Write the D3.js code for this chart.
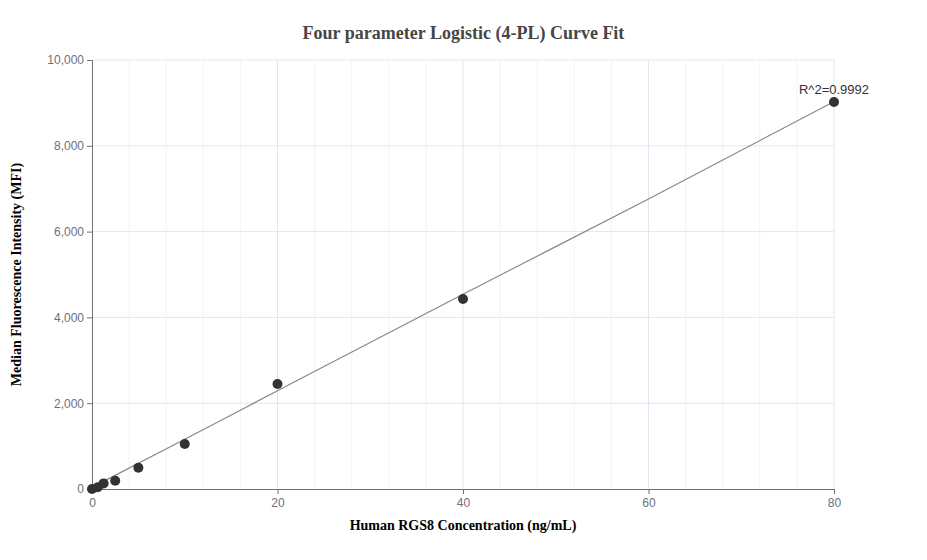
<!DOCTYPE html>
<html>
<head>
<meta charset="utf-8">
<script src="https://cdn.jsdelivr.net/npm/d3@7"></script>
<style>
  body { margin: 0; background: #fff; }
  svg { display: block; }
</style>
</head>
<body>
<svg id="chart"></svg>
<script>
// measured standards
var concentrations = [0, 0.625, 1.25, 2.5, 5, 10, 20, 40, 80];
var mfiValues = [0, 40, 131, 193, 497, 1049, 2448, 4429, 9020];

// fitted curve
var curveX = [0, 10, 20, 40, 60, 80];
var curveY = [40, 1160, 2290, 4540, 6760, 9030];

var xTicks = [0, 20, 40, 60, 80];
var yTicks = [0, 2000, 4000, 6000, 8000, 10000];
var rSquaredLabel = "R^2=0.9992";

var width = 927, height = 560;
var margin = { top: 60, right: 93, bottom: 71, left: 92 };

var svg = d3.select("#chart")
    .attr("width", width)
    .attr("height", height);

var x = d3.scaleLinear().domain([0, 80]).range([margin.left, width - margin.right]);
var y = d3.scaleLinear().domain([0, 10000]).range([height - margin.bottom, margin.top]);

// minor grid every 4 units on x
var minorX = d3.range(0, 81, 4).filter(function (d) { return d % 20 !== 0; });
svg.append("g")
    .selectAll("line")
    .data(minorX)
    .join("line")
    .attr("x1", d => x(d)).attr("x2", d => x(d))
    .attr("y1", y(0)).attr("y2", y(10000))
    .attr("stroke", "#f0f3fa").attr("stroke-width", 1);

// major grid
svg.append("g")
    .selectAll("line")
    .data(xTicks.slice(1))
    .join("line")
    .attr("x1", d => x(d)).attr("x2", d => x(d))
    .attr("y1", y(0)).attr("y2", y(10000))
    .attr("stroke", "#e0e6f1").attr("stroke-width", 1);

svg.append("g")
    .selectAll("line")
    .data(yTicks.slice(1))
    .join("line")
    .attr("x1", x(0)).attr("x2", x(80))
    .attr("y1", d => y(d)).attr("y2", d => y(d))
    .attr("stroke", "#e0e6f1").attr("stroke-width", 1);

// axes
var xAxis = svg.append("g")
    .attr("transform", "translate(0," + y(0) + ")")
    .call(d3.axisBottom(x).tickValues(xTicks).tickSize(5).tickPadding(4));
var yAxis = svg.append("g")
    .attr("transform", "translate(" + x(0) + ",0)")
    .call(d3.axisLeft(y).tickValues(yTicks).tickSize(5).tickPadding(3).tickFormat(d3.format(",")));

[xAxis, yAxis].forEach(function (ax) {
    ax.select(".domain").attr("stroke", "#6e7079");
    ax.selectAll(".tick line").attr("stroke", "#6e7079");
    ax.selectAll(".tick text")
        .attr("fill", "#6e7079")
        .style("font-family", "'Liberation Sans', Arial, sans-serif")
        .style("font-size", "12px");
});

// fitted line
var line = d3.line()
    .x(d => x(d[0]))
    .y(d => y(d[1]))
    .curve(d3.curveMonotoneX);
svg.append("path")
    .datum(d3.zip(curveX, curveY))
    .attr("d", line)
    .attr("fill", "none")
    .attr("stroke", "#888")
    .attr("stroke-width", 1.2);

// points
svg.append("g")
    .selectAll("circle")
    .data(d3.zip(concentrations, mfiValues))
    .join("circle")
    .attr("cx", d => x(d[0]))
    .attr("cy", d => y(d[1]))
    .attr("r", 5)
    .attr("fill", "#333");

// r squared label
svg.append("text")
    .attr("x", x(80))
    .attr("y", y(mfiValues[mfiValues.length - 1]) - 8)
    .attr("text-anchor", "middle")
    .attr("fill", "#333")
    .style("font-family", "'Liberation Sans', Arial, sans-serif")
    .style("font-size", "13px")
    .text(rSquaredLabel);

// titles
svg.append("text")
    .attr("x", width / 2)
    .attr("y", 39)
    .attr("text-anchor", "middle")
    .attr("fill", "#464646")
    .style("font-family", "'Liberation Serif', 'Times New Roman', serif")
    .style("font-weight", "bold")
    .style("font-size", "18px")
    .text("Four parameter Logistic (4-PL) Curve Fit");

svg.append("text")
    .attr("x", x(40))
    .attr("y", 530)
    .attr("text-anchor", "middle")
    .attr("fill", "#000")
    .style("font-family", "'Liberation Serif', 'Times New Roman', serif")
    .style("font-weight", "bold")
    .style("font-size", "14px")
    .text("Human RGS8 Concentration (ng/mL)");

svg.append("text")
    .attr("transform", "translate(21," + y(5000) + ") rotate(-90)")
    .attr("text-anchor", "middle")
    .attr("fill", "#000")
    .style("font-family", "'Liberation Serif', 'Times New Roman', serif")
    .style("font-weight", "bold")
    .style("font-size", "14px")
    .text("Median Fluorescence Intensity (MFI)");
</script>
</body>
</html>
